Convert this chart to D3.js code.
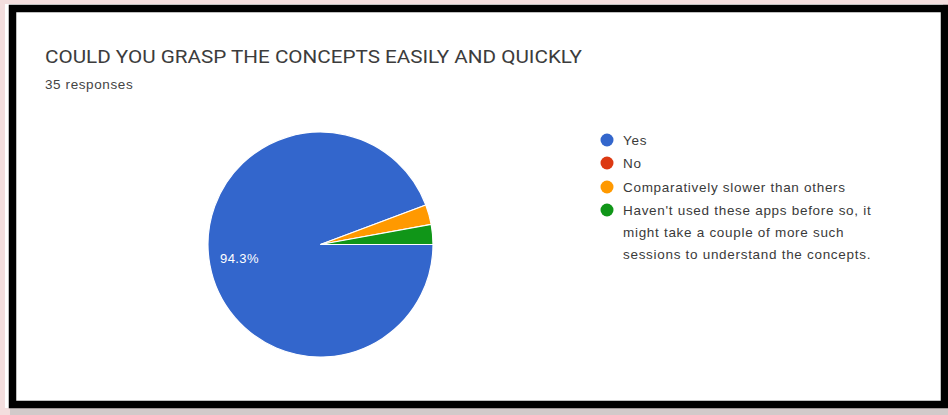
<!DOCTYPE html>
<html>
<head>
<meta charset="utf-8">
<script src="https://cdn.jsdelivr.net/npm/d3@7"></script>
<style>
html,body{margin:0;padding:0;background:#f3dede;}
svg{display:block;}
</style>
</head>
<body>
<script>
const title = "COULD YOU GRASP THE CONCEPTS EASILY AND QUICKLY";
const subtitle = "35 responses";
const categories = ["Yes", "No", "Comparatively slower than others", "Haven't used these apps before so, it might take a couple of more such sessions to understand the concepts."];
const legendLines = [["Yes"], ["No"], ["Comparatively slower than others"], ["Haven't used these apps before so, it", "might take a couple of more such", "sessions to understand the concepts."]];
const values = [33, 0, 1, 1];
const colors = ["#3366cc", "#dc3912", "#ff9900", "#109618"];

const W = 948, H = 415;
const svg = d3.select("body").append("svg").attr("width", W).attr("height", H);

// background + frame
svg.append("rect").attr("x", 0).attr("y", 0).attr("width", W).attr("height", H).attr("fill", "#f3dede");
svg.append("rect").attr("x", 10).attr("y", 8).attr("width", W - 10).attr("height", H - 8).attr("fill", "#bdbdbd").attr("opacity", 0.6);
svg.append("rect").attr("x", 5).attr("y", 4).attr("width", 938).attr("height", 404).attr("fill", "#ffffff");
svg.append("rect").attr("x", 12.5).attr("y", 8.5).attr("width", 932).attr("height", 396)
  .attr("fill", "#ffffff").attr("stroke", "#000").attr("stroke-width", 7.5);

// title
svg.append("text").attr("x", 45).attr("y", 63).text(title)
  .attr("font-family", "Roboto, 'Open Sans', sans-serif").attr("font-size", 17.5)
  .attr("fill", "#3c3c3c").attr("textLength", 537).attr("lengthAdjust", "spacingAndGlyphs");
svg.append("text").attr("x", 45).attr("y", 89).text(subtitle)
  .attr("font-family", "Arial, 'Liberation Sans', sans-serif").attr("font-size", 13.5)
  .attr("letter-spacing", 0.6).attr("fill", "#444");

// pie
const cx = 320.5, cy = 244.5, r = 112.5;
const pie = d3.pie().sort(null).value(d => d)
  .startAngle(Math.PI / 2).endAngle(Math.PI / 2 + 2 * Math.PI);
const arcs = pie(values);
const arc = d3.arc().innerRadius(0).outerRadius(r);
const g = svg.append("g").attr("transform", `translate(${cx},${cy})`);
g.selectAll("path").data(arcs).join("path")
  .attr("d", arc)
  .attr("fill", (d, i) => colors[i])
  .attr("stroke", "#fff").attr("stroke-width", d => d.value > 0 ? 1.2 : 0);

const total = d3.sum(values);
const big = arcs[0];
const pct = d3.format(".1f")(big.value / total * 100) + "%";
svg.append("text").attr("x", 220).attr("y", 263).text(pct)
  .attr("font-family", "Arial, 'Liberation Sans', sans-serif").attr("font-size", 13)
  .attr("letter-spacing", 0.4).attr("fill", "#ffffff");

// legend
const ly = [140, 163, 187, 210];
const lg = svg.append("g");
legendLines.forEach((lines, i) => {
  lg.append("circle").attr("cx", 607).attr("cy", ly[i]).attr("r", 6.5).attr("fill", colors[i]);
  lines.forEach((t, j) => {
    lg.append("text").attr("x", 623).attr("y", ly[i] + 5 + j * 22).text(t)
      .attr("font-family", "Arial, 'Liberation Sans', sans-serif").attr("font-size", 13.5)
      .attr("letter-spacing", 0.7).attr("fill", "#3a3a3a");
  });
});
</script>
</body>
</html>
